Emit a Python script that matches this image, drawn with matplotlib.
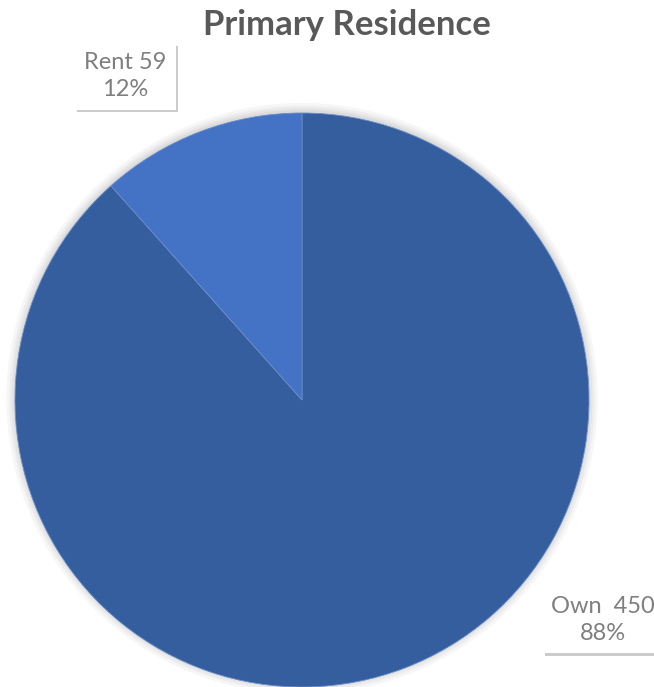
import matplotlib.pyplot as plt
import matplotlib.patheffects as pe
from matplotlib.patches import Circle

# data
labels = ["Own", "Rent"]
counts = [450, 59]
percents = ["88%", "12%"]
colors = ["#355E9F", "#4472C4"]

plt.rcParams['font.family'] = ['Lato', 'DejaVu Sans']

fig = plt.figure(figsize=(6.54, 6.87), dpi=100)
ax = fig.add_axes([15 / 654, 0.0, 574 / 654, 574 / 687])

# soft shadow behind the pie
for r in [1.03, 1.02, 1.012, 1.005]:
    ax.add_patch(Circle((0, 0.005), r, color="#000000", alpha=0.035, lw=0, zorder=0, clip_on=False))

wedges, _ = ax.pie(counts, colors=colors, startangle=90, counterclock=False,
                   radius=1.0, wedgeprops=dict(edgecolor="#6a8cc8", linewidth=0.6))
for w in wedges:
    w.set_zorder(2)

ax.set_xlim(-1, 1)
ax.set_ylim(-1, 1)
ax.set_aspect('equal')
ax.axis('off')

fig.text(0.53, 0.963, "Primary Residence", ha='center', va='center',
         fontsize=25, fontweight='bold', color="#595959")

label_pos = {"Own": (1.05, -0.765), "Rent": (-0.617, 1.128)}
for lab, c, p in zip(labels, counts, percents):
    txt = f"{lab}  {c}\n{p}" if lab == "Own" else f"{lab} {c}\n{p}"
    x, y = label_pos[lab]
    t = ax.text(x, y, txt, ha='center', va='center', fontsize=17, color="#7f7f7f",
                linespacing=1.35, clip_on=False, zorder=5,
                bbox=dict(boxstyle="square,pad=0.4", fc="white", ec="none"))
    t.get_bbox_patch().set_path_effects([
        pe.SimplePatchShadow(offset=(2, -2), shadow_rgbFace="#000000", alpha=0.2),
        pe.Normal()])

fig.savefig("out.png", dpi=100)
